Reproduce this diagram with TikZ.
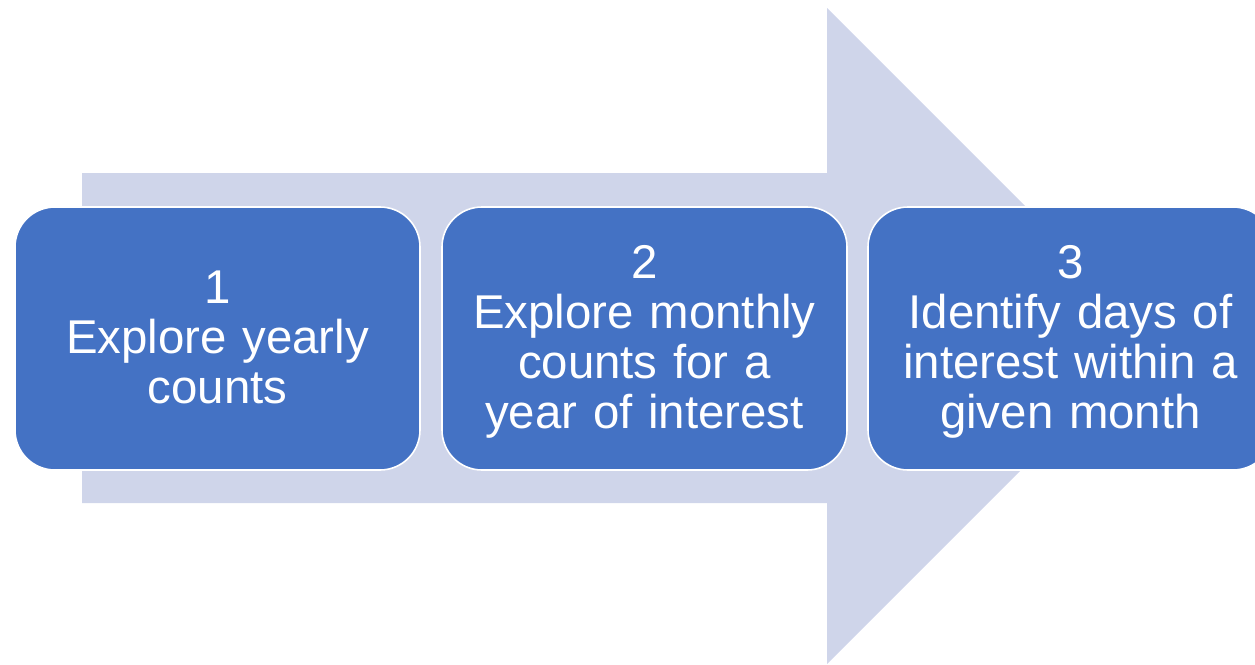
\documentclass[tikz,border=0pt]{standalone}
\usepackage{fontspec}
\setmainfont{Liberation Sans}
\definecolor{stepblue}{HTML}{4472C4}
\definecolor{arrowfill}{HTML}{CFD5EA}
% struts that fix the height of the first and the depth of the last line
\newcommand{\topstrut}{\rule{0pt}{44pt}}
\newcommand{\botstrut}{\rule[-15pt]{0pt}{15pt}}
\begin{document}
\begin{tikzpicture}[x=1pt,y=-1pt,
  stepbox/.style={fill=stepblue, draw=white, line width=1.6pt,
    rounded corners=40pt, minimum width=405pt, minimum height=263pt,
    text width=390pt, align=center, inner sep=0pt, text=white,
    font=\fontsize{47.4}{50}\selectfont}]
  \useasboundingbox (0,0) rectangle (1255,664);
  % large background arrow
  \fill[arrowfill] (82,173) -- (827,173) -- (827,8) -- (1155,336)
    -- (827,664) -- (827,503) -- (82,503) -- cycle;
  % the three steps
  \node[stepbox] (s1) at (217.5,338.5) {\topstrut 1\\Explore yearly\\counts\botstrut};
  \node[stepbox] (s2) at (644.5,338.5) {\topstrut 2\\Explore monthly\\counts for a\\year of interest\botstrut};
  \node[stepbox] (s3) at (1070.5,338.5) {\topstrut 3\\Identify days of\\interest within a\\given month\botstrut};
\end{tikzpicture}
\end{document}
